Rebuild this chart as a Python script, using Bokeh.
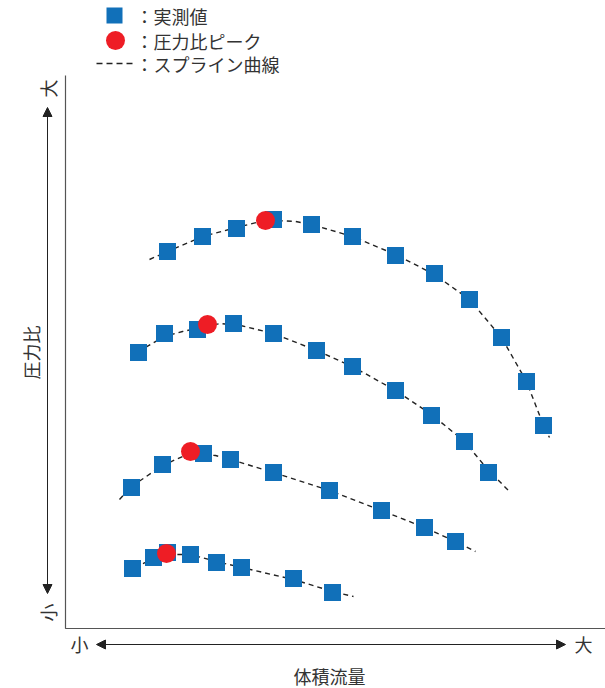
from bokeh.plotting import figure
from bokeh.models import Range1d, Arrow, NormalHead
from bokeh.core.properties import value
from bokeh.embed import file_html
from bokeh.resources import INLINE
import math

# ---- data (arbitrary units: flow, pressure ratio) ----
c1_x = [102, 137, 171, 208, 246, 287, 330, 369, 404, 436, 461, 478]
c1_y = [377, 392, 400, 409, 404, 392, 373, 355, 329, 291, 247, 203]
c1_peak = (200, 408)
c1_sx = [84, 102, 137, 171, 191, 210, 230, 246, 287, 330, 369, 404, 436, 461, 478, 484]
c1_sy = [369, 377, 392, 401, 406, 408, 407, 404, 392, 374, 354, 329, 291, 247, 203, 191]

c2_x = [73, 99, 132, 168, 208, 251, 287, 330, 366, 399, 423]
c2_y = [276, 295, 299, 305, 295, 278, 262, 238, 213, 187, 156]
c2_peak = (142, 304)
c2_sx = [65, 73, 99, 117, 135, 155, 175, 208, 251, 287, 330, 366, 399, 423, 444]
c2_sy = [272, 277, 292, 297, 301, 305, 303, 295, 278, 262, 238, 214, 187, 158, 137]

c3_x = [66, 97, 138, 165, 208, 264, 316, 359, 390]
c3_y = [141, 164, 175, 169, 156, 138, 118, 101, 87]
c3_peak = (125, 177)
c3_sx = [54, 66, 97, 117, 135, 150, 165, 208, 264, 316, 359, 390, 410]
c3_sy = [129, 142, 163, 172, 174, 173, 169, 156, 138, 118, 101, 87, 77]

c4_x = [67, 88, 102, 125, 151, 176, 228, 267]
c4_y = [60, 71, 76, 74, 66, 61, 50, 36]
c4_peak = (101, 75)
c4_sx = [63, 67, 88, 105, 125, 151, 176, 228, 267, 288]
c4_sy = [55, 60, 70, 74, 74, 67, 61, 49, 37, 32]

legend_labels = ["：実測値", "：圧力比ピーク", "：スプライン曲線"]
x_title = "体積流量"
y_title = "圧力比"
low_label = "小"
high_label = "大"

BLUE = "#1170b9"
RED = "#ee1d25"
FONT = value("Noto Sans CJK JP")

p = figure(width=605, height=688, output_backend="svg", toolbar_location=None,
           x_range=Range1d(-65, 540), y_range=Range1d(-60, 628),
           x_axis_location=None, y_axis_location=None, min_border=0)
p.outline_line_color = None
p.xgrid.visible = False
p.ygrid.visible = False
p.background_fill_color = "white"

# axes lines
p.line([0, 0, 540], [553, 0, 0], line_color="#555555", line_width=1.2)

# splines
for sx, sy in [(c1_sx, c1_sy), (c2_sx, c2_sy), (c3_sx, c3_sy), (c4_sx, c4_sy)]:
    p.line(sx, sy, line_color="#222222", line_width=1.4, line_dash="5 4")

# measured values
for xs, ys in [(c1_x, c1_y), (c2_x, c2_y), (c3_x, c3_y), (c4_x, c4_y)]:
    p.scatter(xs, ys, marker="square", size=17, fill_color=BLUE, line_color=None)

# peaks
px = [c1_peak[0], c2_peak[0], c3_peak[0], c4_peak[0]]
py = [c1_peak[1], c2_peak[1], c3_peak[1], c4_peak[1]]
p.scatter(px, py, marker="circle", size=19, fill_color=RED, line_color=None)

# legend
p.scatter([49], [613], marker="square", size=16, fill_color=BLUE, line_color=None)
p.scatter([50], [588], marker="circle", size=19, fill_color=RED, line_color=None)
p.line([31, 69], [565, 565], line_color="#222222", line_width=1.4, line_dash="6 4")
p.text(x=[70, 70, 70], y=[613, 588, 565], text=legend_labels, text_font=FONT,
       text_font_size="18px", text_baseline="middle", text_align="left", text_color="#333333")

# arrows
p.add_layout(Arrow(x_start=31, y_start=-16, x_end=500, y_end=-16, line_color="#222222", line_width=1,
                   start=NormalHead(size=9, fill_color="#222222", line_color="#222222"),
                   end=NormalHead(size=9, fill_color="#222222", line_color="#222222")))
p.add_layout(Arrow(x_start=-18, y_start=35, x_end=-18, y_end=521, line_color="#222222", line_width=1,
                   start=NormalHead(size=9, fill_color="#222222", line_color="#222222"),
                   end=NormalHead(size=9, fill_color="#222222", line_color="#222222")))

p.text(x=[14, 518], y=[-15, -15], text=[low_label, high_label], text_font=FONT,
       text_font_size="18px", text_baseline="middle", text_align="center", text_color="#333333")
p.text(x=[-18, -18], y=[16, 540], text=[low_label, high_label], text_font=FONT, angle=math.pi / 2,
       text_font_size="18px", text_baseline="middle", text_align="center", text_color="#333333")
p.text(x=[264], y=[-47], text=[x_title], text_font=FONT,
       text_font_size="18px", text_baseline="middle", text_align="center", text_color="#333333")
p.text(x=[-35], y=[276], text=[y_title], text_font=FONT, angle=math.pi / 2,
       text_font_size="18px", text_baseline="middle", text_align="center", text_color="#333333")

open("out.html", "w").write(file_html(p, INLINE))
